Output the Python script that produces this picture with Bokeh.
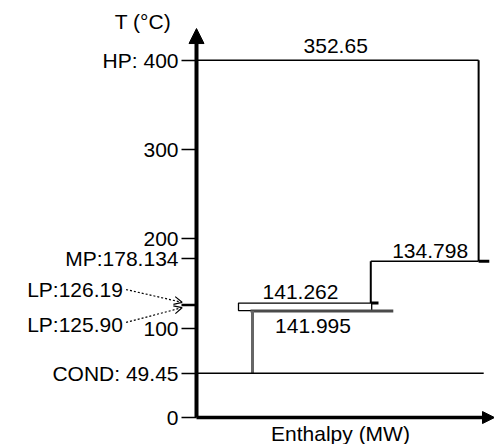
from bokeh.plotting import figure
from bokeh.models import Range1d, FixedTicker, Label, Arrow, NormalHead, OpenHead
from bokeh.embed import file_html
from bokeh.resources import INLINE

# ---- data ----
tick_values = [0, 49.45, 100, 125.90, 126.19, 178.134, 200, 300, 400]
tick_labels = {0: "0", 49.45: "COND: 49.45", 100: "100", 125.90: "", 126.19: "",
               178.134: "MP:178.134", 200: "200", 300: "300", 400: "HP: 400"}

# HP segment
hp_T = 400
hp_H = [0, 352.65]
hp_drop_T = [400, 175]
hp_stub_H = [352.65, 366]

# MP segment
mp_T = 175
mp_H = [217.85, 352.65]
mp_drop_T = [175, 128.2]
mp_stub_H = [217.85, 227.5]

# LP open bar (126.19) and LP grey bar (125.90)
lp1_H = [52.5, 219]
lp1_T = [119.8, 128.2]
lp2_H = [67.5, 246]
lp2_T = 119.3
lp2_drop_H = 70

# COND
cond_T = 49.45
cond_H = [0, 359]

duty_labels = ["352.65", "134.798", "141.262", "141.995"]
duty_H = [174, 292, 130, 145.6]
duty_T = [416.5, 187, 140.3, 103]

lp_names = ["LP:126.19", "LP:125.90"]
lp_name_T = [143.3, 104.0]

FONT = "Liberation Sans"
FS = "21px"

p = figure(width=494, height=444, output_backend="svg", toolbar_location=None,
           x_range=Range1d(-245, 372.5), y_range=Range1d(-30.2, 467),
           min_border_left=0, min_border_right=0, min_border_top=0, min_border_bottom=0)
p.outline_line_color = None
p.xgrid.visible = False
p.ygrid.visible = False
p.background_fill_color = "white"
p.border_fill_color = "white"

# y axis (fixed at H = 0)
ya = p.yaxis[0]
ya.fixed_location = 0
ya.ticker = FixedTicker(ticks=tick_values)
ya.major_label_overrides = tick_labels
ya.axis_line_color = None
ya.major_tick_in = 0
ya.major_tick_out = 15
ya.major_tick_line_width = 1.5
ya.major_label_standoff = 3
ya.minor_tick_line_color = None
ya.major_label_text_font = FONT
ya.major_label_text_font_size = FS
ya.major_label_text_color = "black"

# x axis (fixed at T = 0)
xa = p.xaxis[0]
xa.fixed_location = 0
xa.ticker = FixedTicker(ticks=[])
xa.axis_line_color = None
xa.major_tick_line_color = None
xa.minor_tick_line_color = None
xa.major_label_text_font_size = "0px"
xa.axis_label = None

p.add_layout(Label(x=180, y=-17.5, text="Enthalpy (MW)", text_align="center", text_baseline="middle",
                   text_font=FONT, text_font_size=FS, text_color="black"))

# axis arrows
p.add_layout(Arrow(x_start=0, y_start=0, x_end=0, y_end=435.6, line_width=4, line_color="black",
                   end=NormalHead(size=15, fill_color="black", line_color="black")))
p.add_layout(Arrow(x_start=0, y_start=0, x_end=372.5, y_end=0, line_width=3.5, line_color="black",
                   end=NormalHead(size=12, fill_color="black", line_color="black")))

# HP
p.line(hp_H, [hp_T, hp_T], line_color="black", line_width=1.5)
p.line([hp_H[1], hp_H[1]], hp_drop_T, line_color="black", line_width=2)
p.line(hp_stub_H, [hp_drop_T[1], hp_drop_T[1]], line_color="black", line_width=3)

# MP
p.line(mp_H, [mp_T, mp_T], line_color="black", line_width=1.5)
p.line([mp_H[0], mp_H[0]], mp_drop_T, line_color="black", line_width=2)
p.line(mp_stub_H, [mp_drop_T[1], mp_drop_T[1]], line_color="black", line_width=3)

# LP open bar
p.quad(left=lp1_H[0], right=lp1_H[1], bottom=lp1_T[0], top=lp1_T[1],
       fill_color="white", line_color="black", line_width=1.3)
# LP grey bar
p.line(lp2_H, [lp2_T, lp2_T], line_color="#4a4a4a", line_width=3)
p.line([lp2_drop_H, lp2_drop_H], [lp2_T, cond_T], line_color="#666666", line_width=3)

# COND
p.line(cond_H, [cond_T, cond_T], line_color="black", line_width=1.5)

# duty labels
for t, h, T in zip(duty_labels, duty_H, duty_T):
    p.add_layout(Label(x=h, y=T, text=t, text_align="center", text_baseline="middle",
                       text_font=FONT, text_font_size=FS, text_color="black"))

# LP labels with dotted arrows
for t, T in zip(lp_names, lp_name_T):
    p.add_layout(Label(x=-92, y=T, text=t, text_align="right", text_baseline="middle",
                       text_font=FONT, text_font_size=FS, text_color="black"))
p.add_layout(Arrow(x_start=-88, y_start=143.3, x_end=-18, y_end=129, line_width=1.2,
                   line_color="black", line_dash="2 2",
                   end=OpenHead(size=8, line_color="black", line_width=1.2)))
p.add_layout(Arrow(x_start=-88, y_start=106.5, x_end=-18, y_end=123, line_width=1.2,
                   line_color="black", line_dash="2 2",
                   end=OpenHead(size=8, line_color="black", line_width=1.2)))

# y-axis title
p.add_layout(Label(x=-67, y=443, text="T (°C)", text_align="center", text_baseline="middle",
                   text_font=FONT, text_font_size=FS, text_color="black"))

open("out.html", "w").write(file_html(p, INLINE))
